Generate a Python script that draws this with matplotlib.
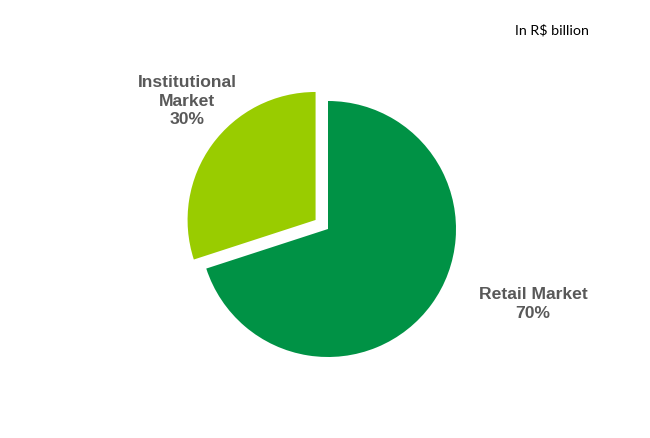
import matplotlib.pyplot as plt

labels = ["Retail Market", "Institutional\nMarket"]
shares = [70, 30]
colors = ["#009245", "#99CC00"]

fig = plt.figure(figsize=(6.5, 4.39), dpi=100)
ax = fig.add_axes([0, 0, 1, 1])

# pie drawn in pixel-like data units, explode is absolute here
radius = 128
ax.pie(shares, colors=colors, startangle=90, counterclock=False,
       explode=[0, 0.12 * radius], radius=radius, center=(328, 209),
       wedgeprops=dict(linewidth=0))
ax.set_xlim(0, 650)
ax.set_ylim(0, 439)
ax.set_aspect("auto")
ax.axis("off")

label_font = dict(family="Liberation Sans", weight="bold", size=12.6,
                  color="#595959", ha="center", va="center",
                  linespacing=1.3)
ax.text(533, 135, "{0}\n{1}%".format(labels[0], shares[0]), **label_font)
ax.text(187, 338, "{0}\n{1}%".format(labels[1], shares[1]), **label_font)

ax.text(552, 409, "In R$ billion", family="Lato", size=10.3,
        color="#000000", ha="center", va="center")

fig.savefig("out.png", dpi=100)
